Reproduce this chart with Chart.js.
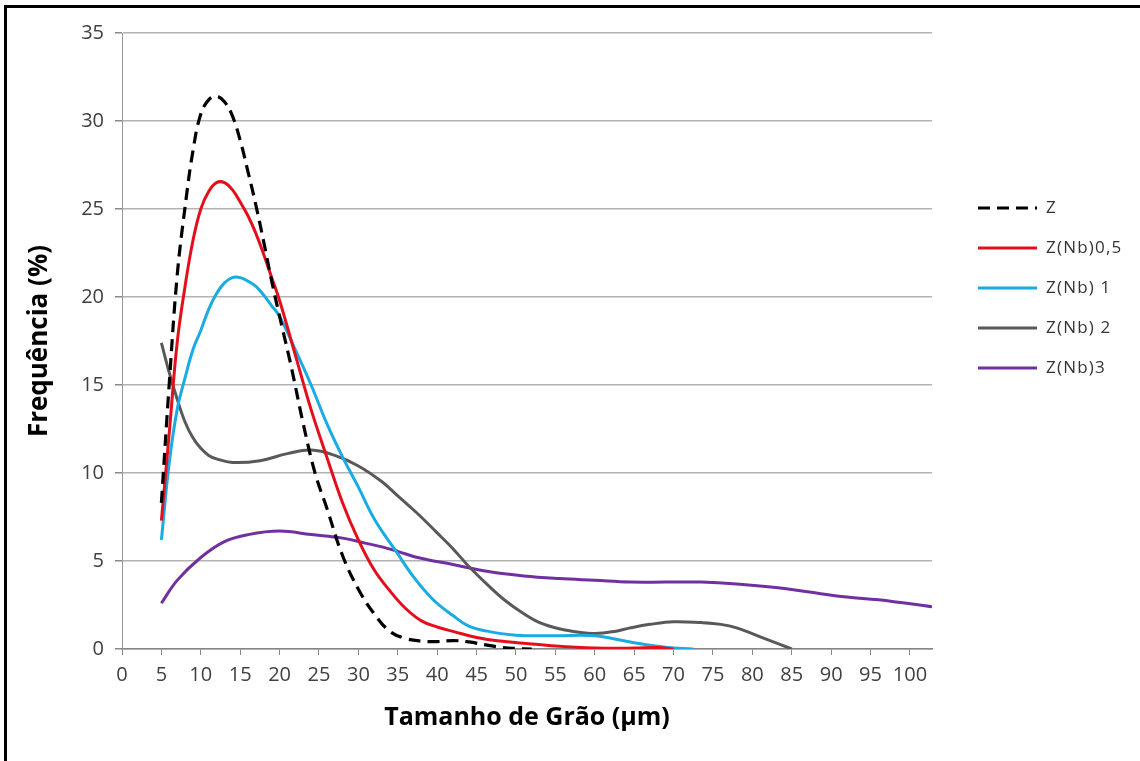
<!DOCTYPE html>
<html>
<head>
<meta charset="utf-8">
<script src="https://cdn.jsdelivr.net/npm/chart.js@4"></script>
<style>
  body { margin: 0; background: #fff; }
  #wrap { position: relative; width: 1140px; height: 761px; overflow: hidden; }
  #frame { position: absolute; left: 4px; top: 5px; right: -10px; bottom: -10px;
           border-left: 3px solid #000; border-top: 3px solid #000; }
  #chart { position: absolute; left: 0; top: 0; }
</style>
</head>
<body>
<div id="wrap">
  <div id="frame"></div>
  <canvas id="chart" width="1140" height="761"></canvas>
</div>
<script>
// values (x = grain size in µm, y = frequency in %)
const zX = [5, 6, 7, 8, 9, 10, 11, 12, 13, 14, 15, 16, 17, 18, 19, 20, 21.5, 23, 24.5, 26, 28, 30, 32, 34, 36, 38, 40, 42, 44, 46, 48, 50, 52];
const zY = [8.3, 15.1, 21.2, 25.1, 28.3, 30.4, 31.2, 31.4, 31.1, 30.3, 28.9, 27.1, 25.2, 23.1, 20.9, 18.9, 16.0, 12.8, 10.0, 8.0, 5.3, 3.4, 2.0, 1.0, 0.6, 0.45, 0.42, 0.48, 0.4, 0.25, 0.1, 0.03, 0];

const nb05X = [5, 6, 7, 8, 9, 10, 11, 12, 13, 14, 15, 16, 17, 18, 19, 20, 22, 24, 26, 28, 30, 32, 34, 36, 38, 40, 42, 45, 48, 51, 55, 60, 65, 68, 70];
const nb05Y = [7.3, 12.3, 17.4, 20.6, 23.2, 25.0, 26.0, 26.5, 26.5, 26.1, 25.4, 24.6, 23.6, 22.4, 21.1, 19.8, 16.7, 13.6, 10.9, 8.3, 6.2, 4.5, 3.3, 2.3, 1.6, 1.25, 1.0, 0.65, 0.45, 0.33, 0.17, 0.06, 0.05, 0.08, 0];

const nb1X = [5, 6, 7, 8, 9, 10, 11, 12, 13, 14, 15, 16, 17, 18, 19, 20, 22, 24, 26, 28, 30, 32, 35, 37, 39.5, 42, 44, 46.5, 50, 55, 60, 64.5, 69, 72.5];
const nb1Y = [6.2, 10.6, 13.6, 15.4, 17.0, 18.1, 19.3, 20.2, 20.8, 21.1, 21.1, 20.9, 20.6, 20.1, 19.5, 18.9, 17.0, 15.0, 12.8, 10.9, 9.2, 7.4, 5.4, 4.1, 2.8, 1.9, 1.3, 1.0, 0.78, 0.75, 0.75, 0.4, 0.1, 0];

const nb2X = [5, 6, 7, 8, 9, 10, 11, 12, 14, 17.5, 21, 24, 27, 30, 33, 35, 37.5, 40, 42, 44, 46.5, 48.5, 51, 53, 55.5, 58, 60, 62.5, 64.5, 67, 70, 73.5, 76, 78, 81.5, 85];
const nb2Y = [17.4, 15.7, 14.2, 12.9, 12.0, 11.4, 11.0, 10.8, 10.6, 10.7, 11.1, 11.3, 11.0, 10.4, 9.5, 8.7, 7.7, 6.6, 5.7, 4.7, 3.6, 2.8, 2.0, 1.5, 1.15, 0.95, 0.88, 1.0, 1.2, 1.4, 1.55, 1.5, 1.4, 1.2, 0.6, 0];

const nb3X = [5, 7, 10, 13, 16, 20, 24, 28, 31, 33, 35, 37.5, 42, 46.5, 51, 55.5, 60, 64.5, 69, 73.5, 78, 83, 87, 92, 96, 102.8];
const nb3Y = [2.6, 3.9, 5.2, 6.1, 6.5, 6.7, 6.5, 6.3, 6.0, 5.8, 5.55, 5.2, 4.8, 4.4, 4.15, 4.0, 3.9, 3.8, 3.8, 3.8, 3.7, 3.5, 3.25, 2.95, 2.8, 2.4];

const seriesNames = ['Z', 'Z(Nb)0,5', 'Z(Nb) 1', 'Z(Nb) 2', 'Z(Nb)3'];

function pts(xs, ys) {
    return xs.map((x, i) => ({ x: x, y: ys[i] }));
}

const FONT = '"Open Sans", "DejaVu Sans", sans-serif';

// legend drawn by hand so it sits where the original one does
const sideLegend = {
    id: 'sideLegend',
    afterDraw(chart) {
        const c = chart.ctx;
        c.save();
        chart.data.datasets.forEach((ds, i) => {
            const y = 208 + i * 40;
            c.strokeStyle = ds.borderColor;
            c.lineWidth = 3;
            c.setLineDash(ds.borderDash || []);
            c.beginPath();
            c.moveTo(978, y);
            c.lineTo(1037, y);
            c.stroke();
            c.setLineDash([]);
            c.fillStyle = '#333';
            c.font = '17px ' + FONT;
            c.letterSpacing = '1.2px';
            c.textBaseline = 'middle';
            c.fillText(ds.label, 1046, y);
        });
        c.restore();
    }
};

const common = { fill: false, pointRadius: 0, borderWidth: 3, tension: 0.4 };

new Chart(document.getElementById('chart').getContext('2d'), {
    type: 'line',
    data: {
        datasets: [
            { ...common, label: seriesNames[0], data: pts(zX, zY), borderColor: '#000000', borderDash: [12, 7], borderWidth: 3.2 },
            { ...common, label: seriesNames[1], data: pts(nb05X, nb05Y), borderColor: '#e3101c' },
            { ...common, label: seriesNames[2], data: pts(nb1X, nb1Y), borderColor: '#1aabe3' },
            { ...common, label: seriesNames[3], data: pts(nb2X, nb2Y), borderColor: '#595959' },
            { ...common, label: seriesNames[4], data: pts(nb3X, nb3Y), borderColor: '#7030a0' }
        ]
    },
    options: {
        responsive: false,
        animation: false,
        layout: { padding: { left: 0, top: 33, right: 208, bottom: 0 } },
        plugins: {
            legend: { display: false },
            tooltip: { enabled: false }
        },
        scales: {
            x: {
                type: 'linear',
                min: 0,
                max: 102.8,
                afterFit: s => { s.height = 112; },
                border: { color: '#868686', width: 1.5 },
                grid: { drawOnChartArea: false, tickLength: 6, color: '#868686' },
                ticks: {
                    stepSize: 5, includeBounds: false, maxRotation: 0, autoSkip: false,
                    padding: 8, color: '#404040', font: { family: FONT, size: 20 }
                },
                title: {
                    display: true, text: 'Tamanho de Grão (µm)', color: '#000',
                    font: { family: FONT, size: 25, weight: 'bold' },
                    padding: { top: 4, bottom: 28 }
                }
            },
            y: {
                min: 0,
                max: 35,
                afterFit: s => { s.width = 122; },
                border: { color: '#9a9a9a', width: 1 },
                grid: { color: '#b3b3b3', lineWidth: 1.5, tickLength: 7, tickColor: '#8a8a8a' },
                ticks: {
                    stepSize: 5, padding: 11, color: '#404040', font: { family: FONT, size: 20 }
                },
                title: {
                    display: true, text: 'Frequência (%)', color: '#000',
                    font: { family: FONT, size: 26, weight: 'bold' },
                    padding: { top: 24, bottom: 0 }
                }
            }
        }
    },
    plugins: [sideLegend]
});
</script>
</body>
</html>
